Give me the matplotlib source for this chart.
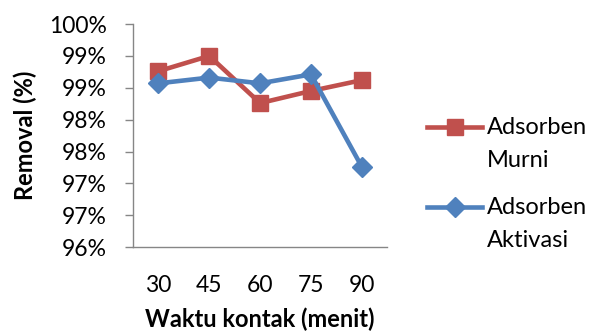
import matplotlib.pyplot as plt
from matplotlib.lines import Line2D
from matplotlib.ticker import FixedLocator

# Contact time (minutes) and removal efficiency (%) for each adsorbent
waktu = ["30", "45", "60", "75", "90"]
murni = [99.26, 99.50, 98.76, 98.95, 99.12]
aktivasi = [99.07, 99.16, 99.07, 99.21, 97.76]

y_ticks = [96.5, 97.0, 97.5, 98.0, 98.5, 99.0, 99.5, 100.0]
y_labels = ["96%", "97%", "97%", "98%", "98%", "99%", "99%", "100%"]

RED = "#C0504D"
BLUE = "#4F81BD"

plt.rcParams["font.family"] = ["Lato", "DejaVu Sans"]

W, H = 607, 334
fig = plt.figure(figsize=(W / 100, H / 100), dpi=100)
ax = fig.add_axes([0.219, 0.260, 0.419, 0.668])

x = range(len(waktu))
series = [
    ("Adsorben\nMurni", murni, RED, "s", 12),
    ("Adsorben\nAktivasi", aktivasi, BLUE, "D", 10.5),
]
for label, values, color, marker, ms in series:
    ax.plot(x, values, color=color, lw=3.3, marker=marker, ms=ms)

ax.set_xlim(-0.5, len(waktu) - 0.5)
ax.set_ylim(96.5, 100.0)
ax.set_xticks(list(x))
ax.set_xticklabels(waktu, fontsize=16.5)
ax.yaxis.set_major_locator(FixedLocator(y_ticks))
ax.set_yticklabels(y_labels, fontsize=16.5)

ax.tick_params(axis="x", length=0, pad=20)
ax.tick_params(axis="y", length=6, width=1, color="#868686", pad=13)
for side in ("top", "right"):
    ax.spines[side].set_visible(False)
for side in ("left", "bottom"):
    ax.spines[side].set_color("#868686")
    ax.spines[side].set_linewidth(1)

ax.set_xlabel("Waktu kontak (menit)", fontsize=17, fontweight="bold",
              labelpad=8)
ax.set_ylabel("Removal (%)", fontsize=17, fontweight="bold", labelpad=8)

# Legend drawn by hand so the key sits beside the first line of each label
for i, (label, values, color, marker, ms) in enumerate(series):
    yk = 1 - (127 + 80 * i) / H
    fig.add_artist(Line2D([427 / W, 482 / W], [yk, yk], color=color,
                          lw=3.3, transform=fig.transFigure))
    fig.add_artist(Line2D([454.5 / W], [yk], color=color, marker=marker,
                          ms=ms, transform=fig.transFigure))
    fig.text(487 / W, yk + 10 / H, label, fontsize=17, va="top",
             ha="left", linespacing=1.7)

fig.savefig("out.png", dpi=100)
